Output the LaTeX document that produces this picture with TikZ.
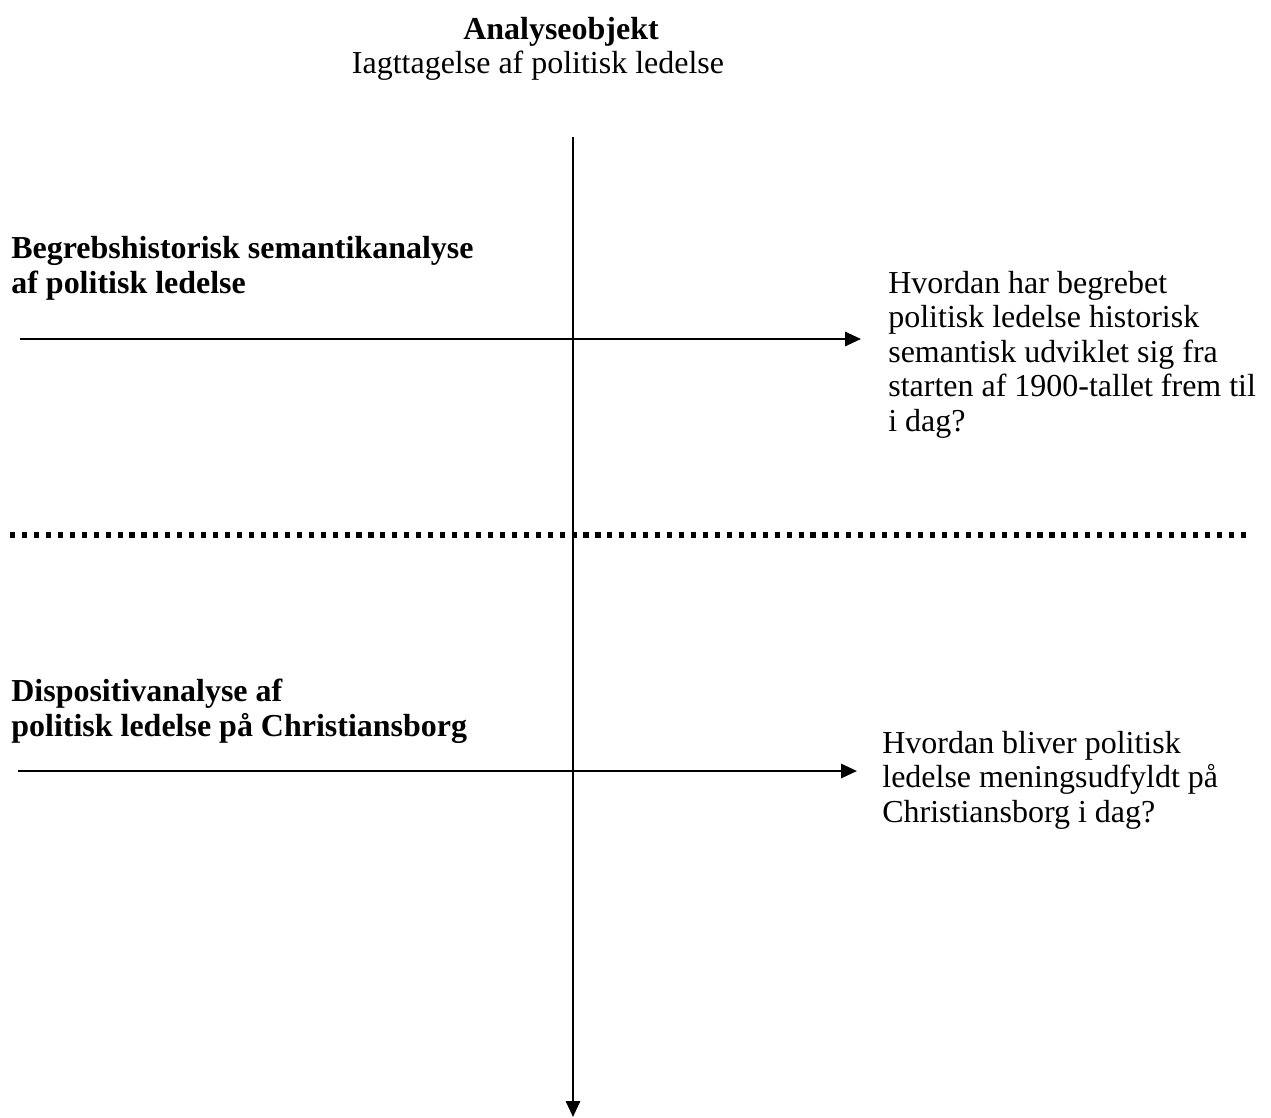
\documentclass[tikz,border=0pt]{standalone}
\usepackage{fontspec}
\setmainfont{Liberation Serif}
\usetikzlibrary{positioning,arrows.meta}

\begin{document}
\begin{tikzpicture}[x=0.02cm,y=-0.02cm,
        txt/.style={inner sep=0pt,anchor=base west,align=left,font=\fontsize{18.2}{19.6}\selectfont},
        axis/.style={line width=1.4pt,-{Triangle[length=9pt,width=8pt]}},
        skille/.style={line width=2.9pt,dash pattern=on 2.9pt off 3.9pt}]
        \useasboundingbox (0,0) rectangle (1271,1117);
        % overskrift
        \node[txt,anchor=base] (titel) at (561,39) {\textbf{Analyseobjekt}};
        \node[txt,anchor=base] (undertitel) at (538,73) {Iagttagelse af politisk ledelse};
        % akser
        \coordinate (vtop) at (573,137);
        \coordinate (vbund) at (573,1117);
        \coordinate (h1start) at (20,339);
        \coordinate (h1slut) at (861,339);
        \coordinate (h2start) at (18,771);
        \coordinate (h2slut) at (857,771);
        \draw[axis] (vtop) -- (vbund);
        \draw[axis] (h1start) -- (h1slut);
        \draw[axis] (h2start) -- (h2slut);
        % skillelinje
        \coordinate (sv) at (10,535);
        \coordinate (sh) at (1252,535);
        \draw[skille] (sv) -- (sh);
        % tekster (ankret i sidste linjes grundlinje)
        \node[txt] (begreb) at (11,293) {\textbf{Begrebshistorisk semantikanalyse}\\\textbf{af politisk ledelse}};
        \node[txt] (spm1) at (888,431) {Hvordan har begrebet\\politisk ledelse historisk\\semantisk udviklet sig fra\\starten af 1900-tallet frem til\\i dag?};
        \node[txt] (dispo) at (11,736) {\textbf{Dispositivanalyse af}\\\textbf{politisk ledelse på Christiansborg}};
        \node[txt] (spm2) at (882,822) {Hvordan bliver politisk\\ledelse meningsudfyldt på\\Christiansborg i dag?};
\end{tikzpicture}
\end{document}
